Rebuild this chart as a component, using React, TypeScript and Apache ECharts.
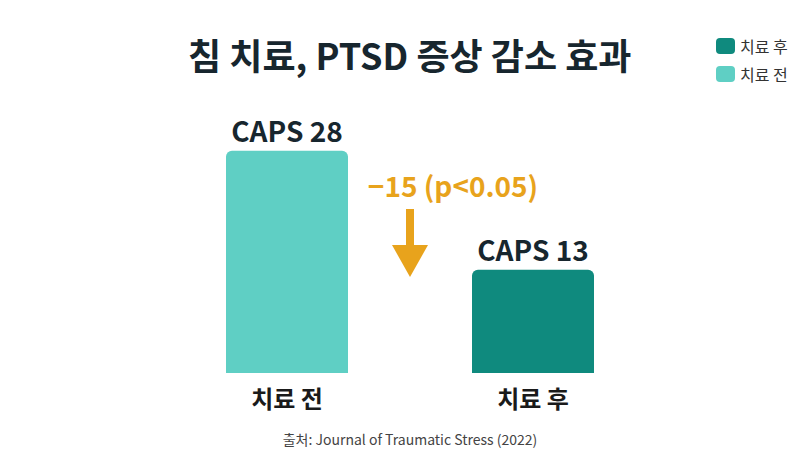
import React, { useEffect, useRef } from "react";
import * as echarts from "echarts";

const categories = ["치료 전", "치료 후"];
const seriesNames = ["치료 후", "치료 전"];
const beforeValues: (number | string)[] = [28, "-"];
const afterValues: (number | string)[] = ["-", 13];
const labelPrefix = "CAPS ";
const diffText = "−15 (p<0.05)";
const titleText = "침 치료, PTSD 증상 감소 효과";
const sourceText = "출처: Journal of Traumatic Stress (2022)";

const FONT = "'Noto Sans CJK KR', 'Noto Sans', sans-serif";
const LIGHT = "#5FCFC4";
const DARK = "#0F8A7E";
const ORANGE = "#E8A31C";
const INK = "#17262E";

export default function App() {
  const ref = useRef<HTMLDivElement>(null);
  useEffect(() => {
    if (!ref.current) return;
    const chart = echarts.init(ref.current, undefined, { renderer: "svg" });
    const barLabel = {
      show: true,
      position: "top",
      distance: 7,
      formatter: (p: any) => labelPrefix + p.value,
      fontFamily: FONT,
      fontSize: 28,
      fontWeight: "bold",
      color: INK,
    };
    chart.setOption({
      animation: false,
      backgroundColor: "#ffffff",
      textStyle: { fontFamily: FONT },
      title: {
        text: titleText,
        left: 183,
        top: 31,
        textStyle: { fontFamily: FONT, fontSize: 36, fontWeight: "bold", color: INK },
      },
      legend: {
        data: seriesNames,
        orient: "vertical",
        left: 711,
        top: 33,
        itemWidth: 19,
        itemHeight: 16,
        itemGap: 12,
        textStyle: { fontFamily: FONT, fontSize: 16, color: "#333" },
        itemStyle: { borderRadius: 3 },
      },
      grid: { left: 164, right: 144, top: 135, bottom: 85 },
      xAxis: {
        type: "category",
        data: categories,
        axisLine: { show: false },
        axisTick: { show: false },
        axisLabel: {
          margin: 12,
          fontFamily: FONT,
          fontSize: 24,
          fontWeight: "bold",
          color: "#1a1a1a",
        },
      },
      yAxis: {
        type: "value",
        min: 0,
        max: 30,
        show: false,
        splitLine: { show: false },
      },
      series: [
        {
          name: seriesNames[0],
          type: "bar",
          data: afterValues,
          barWidth: 122,
          barGap: "-100%",
          itemStyle: { color: DARK, borderRadius: [6, 6, 0, 0] },
          label: barLabel,
        },
        {
          name: seriesNames[1],
          type: "bar",
          data: beforeValues,
          barWidth: 122,
          barGap: "-100%",
          itemStyle: { color: LIGHT, borderRadius: [6, 6, 0, 0] },
          label: barLabel,
        },
      ],
      graphic: [
        {
          type: "text",
          x: 453,
          y: 185,
          style: {
            text: diffText,
            fontFamily: FONT,
            fontSize: 28,
            fontWeight: "bold",
            fill: ORANGE,
            textAlign: "center",
            textVerticalAlign: "middle",
          },
        },
        {
          type: "rect",
          shape: { x: 406, y: 209, width: 8, height: 38 },
          style: { fill: ORANGE },
        },
        {
          type: "polygon",
          shape: { points: [[392, 245], [428, 245], [410, 277]] },
          style: { fill: ORANGE },
        },
        {
          type: "text",
          x: 410,
          y: 439,
          style: {
            text: sourceText,
            fontFamily: FONT,
            fontSize: 14,
            fill: "#444",
            textAlign: "center",
            textVerticalAlign: "middle",
          },
        },
      ],
    });
    return () => chart.dispose();
  }, []);
  return <div ref={ref} style={{ width: 800, height: 458, margin: -8 }} />;
}
